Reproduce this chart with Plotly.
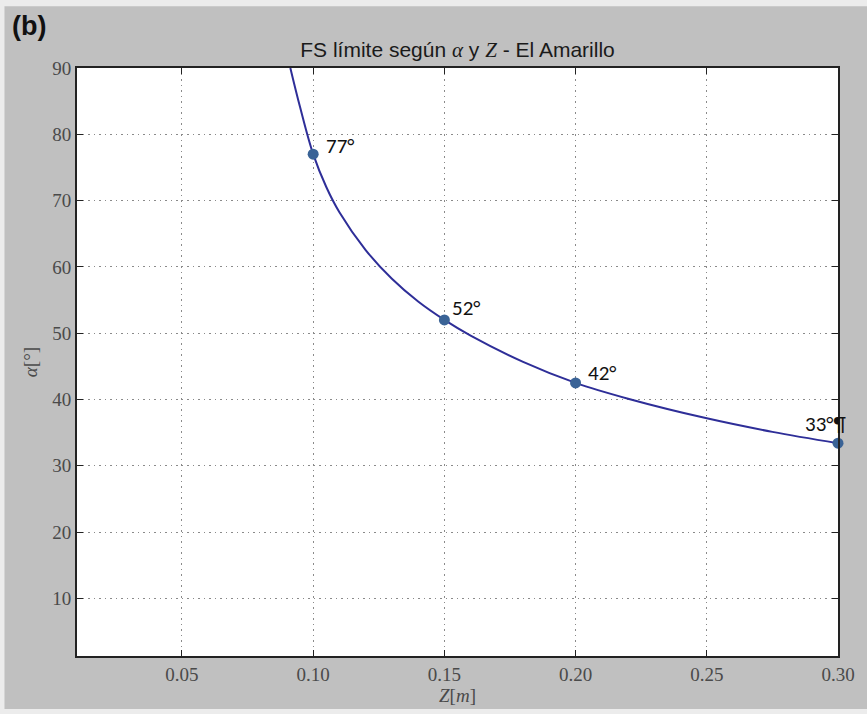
import plotly.graph_objects as go

# Curve
curve_z = [0.0913, 0.0950, 0.1000, 0.1050, 0.1100, 0.1200, 0.1300, 0.1400,
           0.1500, 0.1600, 0.1800, 0.2000, 0.2200, 0.2500, 0.2750, 0.3000]
curve_alpha = [90.0, 84.1, 77.0, 72.05, 68.24, 62.53, 58.2, 54.77,
               52.0, 49.63, 45.67, 42.5, 40.11, 37.15, 35.11, 33.4]

# Marked points
point_z = [0.10, 0.15, 0.20, 0.30]
point_alpha = [77.0, 52.0, 42.5, 33.4]
point_labels = ["77°", "52°", "42°", "33°¶"]

x_ticks = [0.05, 0.10, 0.15, 0.20, 0.25, 0.30]
x_tick_text = ["0.05", "0.10", "0.15", "0.20", "0.25", "0.30"]
y_ticks = [10, 20, 30, 40, 50, 60, 70, 80, 90]

fig = go.Figure()
fig.add_trace(go.Scatter(x=curve_z, y=curve_alpha, mode="lines",
                         line=dict(color="#2e2e98", width=2, shape="spline", smoothing=1.0),
                         hoverinfo="skip", showlegend=False))
fig.add_trace(go.Scatter(x=point_z, y=point_alpha, mode="markers",
                         marker=dict(color="#3a6396", size=11),
                         showlegend=False, cliponaxis=False))

label_shift = [(11, 8), (6, 12), (10, 10), (-35, 19)]
for z, a, t, (dx, dy) in zip(point_z, point_alpha, point_labels, label_shift):
    fig.add_annotation(x=z, y=a, text=t, showarrow=False, xanchor="left",
                       yanchor="middle", xshift=dx, yshift=dy,
                       font=dict(family="Carlito, Lato, 'Open Sans', sans-serif",
                                 size=21, color="#111111"))

fig.add_annotation(xref="paper", yref="paper", x=-0.088, y=1.100, text="<b>(b)</b>",
                   showarrow=False, xanchor="left", yanchor="top",
                   font=dict(family="Liberation Sans, Arial, sans-serif", size=27,
                             color="#111111"))

# grey panel with a light rim, and the white plotting area on top of it
fig.add_shape(type="rect", xref="paper", yref="paper", layer="below",
              x0=-0.0953, x1=1.05, y0=-0.09, y1=1.105,
              fillcolor="#c0c0c0", line=dict(width=0))
fig.add_shape(type="rect", xref="paper", yref="paper", layer="below",
              x0=0, x1=1, y0=0, y1=1,
              fillcolor="#ffffff", line=dict(width=0))

axis_common = dict(showline=True, linecolor="#222222", linewidth=2, mirror="ticks",
                   ticks="inside", ticklen=6, tickcolor="#222222",
                   showgrid=True, gridcolor="#8a8a8a", griddash="1.5px,4px", gridwidth=1.2,
                   zeroline=False,
                   tickfont=dict(family="Liberation Serif, Times New Roman, serif",
                                 size=19, color="#4a4a4a"))

fig.update_layout(
    width=867, height=714,
    margin=dict(l=77, r=20, t=68, b=54),
    paper_bgcolor="#ececec",
    plot_bgcolor="#ffffff",
    title=dict(
        text="FS límite según <i><span style='font-family:Liberation Serif'>α</span></i> y "
             "<i><span style='font-family:Liberation Serif'>Z</span></i> - El Amarillo",
        x=0.5, xanchor="center", xref="paper", y=0.93, yanchor="middle",
        font=dict(family="Liberation Sans, Arial, sans-serif", size=21, color="#1a1a1a")),
    xaxis=dict(range=[0.01, 0.30], tickvals=x_ticks, ticktext=x_tick_text,
               title=dict(text="<i>Z</i>[<i>m</i>]", standoff=4,
                          font=dict(family="Liberation Serif, serif", size=19,
                                    color="#4a4a4a")),
               **axis_common),
    yaxis=dict(range=[1.3, 90], tickvals=y_ticks,
               title=dict(text="<i>α</i>[°]", standoff=10,
                          font=dict(family="Liberation Serif, serif", size=19,
                                    color="#4a4a4a")),
               **axis_common),
)

fig.write_html("out.html", config={"displayModeBar": False},
               post_script="document.body.style.margin='0';document.body.style.padding='0';")
